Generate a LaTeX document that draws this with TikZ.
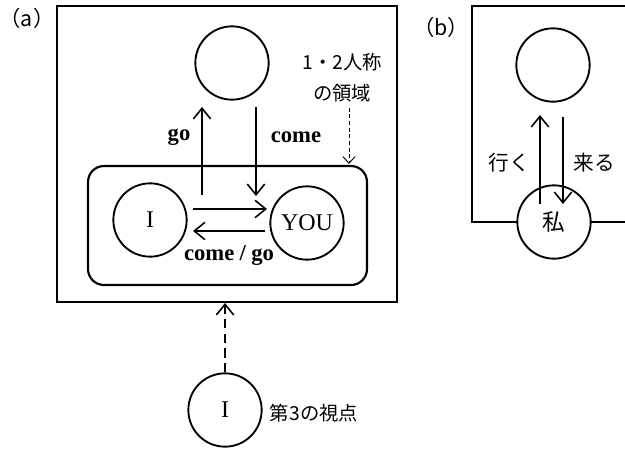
\documentclass[tikz,border=0pt]{standalone}
\usepackage{fontspec}
\setmainfont{Liberation Serif}
\newfontfamily\jp{Noto Sans CJK JP}
\usetikzlibrary{arrows.meta}
\begin{document}
\begin{tikzpicture}[x=0.75pt,y=-0.75pt,
  circ/.style={circle,draw,line width=1.4pt,minimum size=55pt,inner sep=0pt,fill=white},
  ln/.style={line width=1.5pt},
  arr/.style={line width=1.5pt,-{Straight Barb[length=8pt,width=13pt,line width=1.2pt]}},
  dasharr/.style={line width=1.5pt,dash pattern=on 7pt off 4pt,-{Straight Barb[length=8pt,width=13pt,line width=1.2pt]}},
  dotarr/.style={line width=0.7pt,dash pattern=on 3pt off 2pt,-{Straight Barb[length=5pt,width=9pt,line width=0.7pt]}},
  lab/.style={font=\bfseries\fontsize{17}{19}\selectfont,inner sep=1pt},
  clab/.style={font=\fontsize{18}{20}\selectfont},
  jlab/.style={font=\jp\fontsize{14.5}{16}\selectfont,inner sep=1pt},
  tag/.style={font=\jp\fontsize{16}{18}\selectfont,inner sep=1pt}]
\useasboundingbox (0,0) rectangle (625,454);
% ---------- (a) ----------
\node[tag] (alab) at (27,18) {（a）};
\draw[line width=1.1pt] (57,6) rectangle (397,302);
\draw[line width=1.6pt,rounded corners=12] (88,166) rectangle (367,285);
\node[circ] (top) at (232,63) {};
\node[circ,clab] (I) at (150,220) {I};
\node[circ,clab] (YOU) at (307,223) {YOU};
\coordinate (goS) at (202,195);
\coordinate (goE) at (202,107);
\coordinate (comeS) at (256,107);
\coordinate (comeE) at (256,196);
\draw[arr] (goS) -- (goE);
\draw[arr] (comeS) -- (comeE);
\node[lab] (go) at (179,137) {go};
\node[lab] (come) at (296,137) {come};
\coordinate (r1) at (193,209);
\coordinate (r2) at (267,209);
\coordinate (l1) at (265,231);
\coordinate (l2) at (193,231);
\draw[arr] (r1) -- (r2);
\draw[arr] (l1) -- (l2);
\node[lab] (cg) at (229,256) {come\hspace{4pt}/\hspace{4pt}go};
\node[jlab] (p1) at (342,62) {1・2人称};
\node[jlab] (p2) at (342,93) {の領域};
\coordinate (dE) at (349,164);
\draw[dotarr] (p2.south -| dE) ++(0,4) -- (dE);
% third person
\node[circ,clab] (I3) at (225,410) {I};
\coordinate (boxB) at (225,303);
\draw[dasharr] (I3.north) -- (boxB);
\node[jlab] (third) at (314,413) {第3の視点};
% ---------- (b) ----------
\node[tag] (blab) at (441,27) {（b）};
\draw[line width=1.1pt] (626,6) -- (472,6) -- (472,222) -- (626,222);
\node[circ] (btop) at (553,65) {};
\node[circ,font=\jp\fontsize{17}{19}\selectfont] (me) at (554,222) {\raisebox{-5pt}{私}};
\coordinate (ikS) at (540,204);
\coordinate (ikE) at (540,115);
\coordinate (kuS) at (563,117);
\coordinate (kuE) at (563,204);
\draw[arr] (ikS) -- (ikE);
\draw[arr] (kuS) -- (kuE);
\node[jlab,font=\jp\fontsize{15.5}{17}\selectfont] (iku) at (509,163) {行く};
\node[jlab,font=\jp\fontsize{15.5}{17}\selectfont] (kuru) at (594,163) {来る};
\end{tikzpicture}
\end{document}
